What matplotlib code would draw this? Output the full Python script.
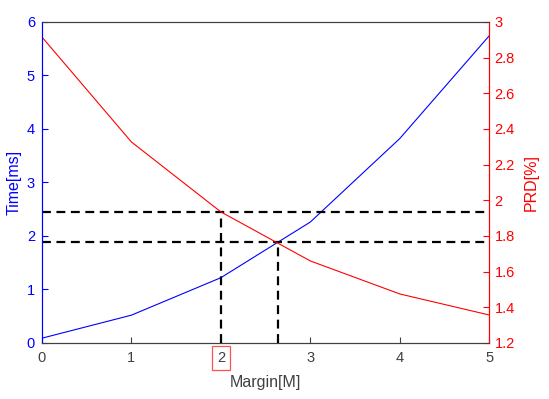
import matplotlib
matplotlib.use("Agg")
import matplotlib.pyplot as plt

plt.rcParams['font.family'] = ['Liberation Sans', 'DejaVu Sans']

# ---------- DATA ----------
margin = [0, 1, 2, 3, 4, 5]
time_ms = [0.09, 0.52, 1.22, 2.26, 3.82, 5.74]
prd_pct = [2.915, 2.327, 1.935, 1.66, 1.475, 1.357]

h_lines = [2.45, 1.89]          # on the Time axis
v_lines = [(2.0, 2.45), (2.64, 1.89)]  # (x, top in Time units)

GREY = "#404040"

fig = plt.figure(figsize=(5.49, 3.99), dpi=100)
ax = fig.add_axes([0.0765, 0.1404, 0.8145, 0.8046])
ax2 = ax.twinx()

ax.plot(margin, time_ms, color="blue", lw=0.8)
ax2.plot(margin, prd_pct, color="red", lw=0.8)

for y in h_lines:
    ax.plot([0, 5], [y, y], color="black", ls=(0, (4, 2.5)), lw=1.6, zorder=4)
for x, top in v_lines:
    ax.plot([x, x], [0, top], color="black", ls=(0, (4, 2.5)), lw=1.6, zorder=4)

ax.set_xlim(0, 5)
ax.set_ylim(0, 6)
ax2.set_ylim(1.2, 3)
ax.set_xticks(margin)
ax2.set_yticks([1.2, 1.4, 1.6, 1.8, 2.0, 2.2, 2.4, 2.6, 2.8, 3.0])
ax2.set_yticklabels(["1.2", "1.4", "1.6", "1.8", "2", "2.2", "2.4", "2.6", "2.8", "3"])

ax.tick_params(axis="x", direction="in", colors=GREY, labelsize=10.5, length=4, pad=6)
ax.tick_params(axis="y", direction="in", colors="blue", labelsize=10.5, length=4, pad=5)
ax2.tick_params(axis="y", direction="in", colors="red", labelsize=10.5, length=4, pad=4)

for a in (ax, ax2):
    a.spines["top"].set_color(GREY)
    a.spines["bottom"].set_color(GREY)
    a.spines["left"].set_color("blue")
    a.spines["right"].set_color("red")

ax.set_xlabel("Margin[M]", color=GREY, fontsize=11.5, labelpad=7)
ax.set_ylabel("Time[ms]", color="blue", fontsize=11.5, labelpad=4)
ax2.set_ylabel("PRD[%]", color="red", fontsize=11.5, labelpad=6)

# red box around the chosen margin tick
lab = ax.get_xticklabels()[2]
lab.set_bbox(dict(facecolor="none", edgecolor="#ff5050", lw=0.9,
                  boxstyle="square,pad=0.35"))

fig.savefig("out.png", dpi=100)
